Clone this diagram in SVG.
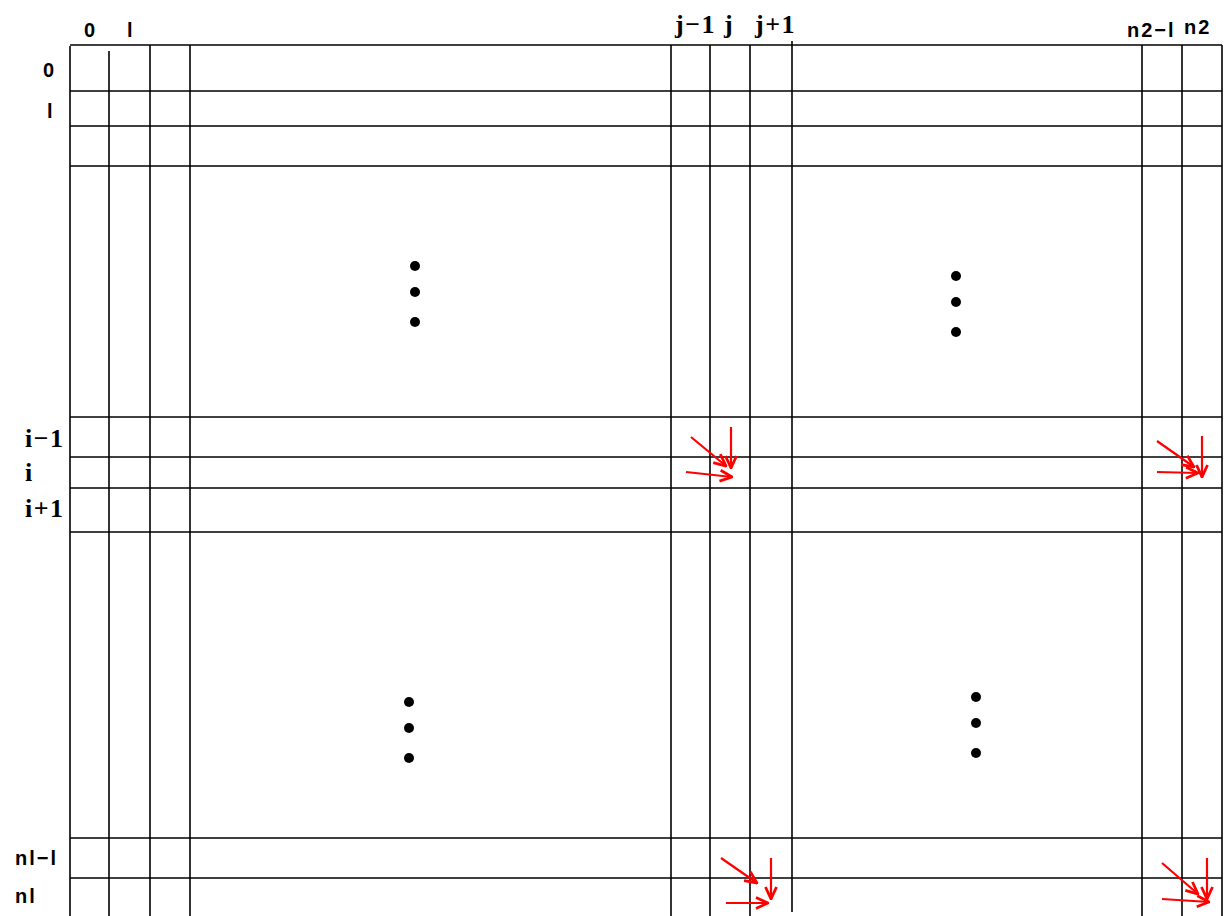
<svg xmlns="http://www.w3.org/2000/svg" width="1225" height="916" viewBox="0 0 1225 916">
<style>
.g{stroke:#000;stroke-width:1.6;fill:none}
.a{stroke:#f00;stroke-width:2.2;fill:none;marker-end:url(#ah)}
.serif{font-family:"Liberation Serif",serif;font-size:26px;font-weight:bold;letter-spacing:1.5px;fill:#000}
.sans{font-family:"Liberation Sans",sans-serif;font-size:20px;font-weight:bold;letter-spacing:2px;fill:#000}
.d{fill:#000}
</style>
<defs>
<marker id="ah" viewBox="0 0 14 14" refX="13" refY="7" markerWidth="14" markerHeight="14" markerUnits="userSpaceOnUse" orient="auto">
<path d="M1,1.5 L13,7 L1,12.5" fill="none" stroke="#f00" stroke-width="2.8"/>
</marker>
</defs>
<rect width="1225" height="916" fill="#fff"/>
<g id="grid">
<line class="g" x1="70" y1="45" x2="1222" y2="45"/>
<line class="g" x1="70" y1="91" x2="1222" y2="91"/>
<line class="g" x1="70" y1="126" x2="1222" y2="126"/>
<line class="g" x1="70" y1="166" x2="1222" y2="166"/>
<line class="g" x1="70" y1="417" x2="1222" y2="417"/>
<line class="g" x1="70" y1="457" x2="1222" y2="457"/>
<line class="g" x1="70" y1="488" x2="1222" y2="488"/>
<line class="g" x1="70" y1="532" x2="1222" y2="532"/>
<line class="g" x1="70" y1="838" x2="1222" y2="838"/>
<line class="g" x1="70" y1="878" x2="1222" y2="878"/>
<line class="g" x1="70" y1="46" x2="70" y2="916"/>
<line class="g" x1="109" y1="51" x2="109" y2="916"/>
<line class="g" x1="150" y1="45" x2="150" y2="916"/>
<line class="g" x1="190" y1="45" x2="190" y2="916"/>
<line class="g" x1="671" y1="45" x2="671" y2="916"/>
<line class="g" x1="710" y1="45" x2="710" y2="916"/>
<line class="g" x1="750" y1="45" x2="750" y2="916"/>
<line class="g" x1="792" y1="41" x2="792" y2="912"/>
<line class="g" x1="1142" y1="45" x2="1142" y2="916"/>
<line class="g" x1="1182" y1="45" x2="1182" y2="916"/>
<line class="g" x1="1222" y1="45" x2="1222" y2="916"/>
</g>
<g id="labels">
<text class="sans" x="84" y="37">0</text>
<text class="sans" x="127" y="37">l</text>
<text class="serif" x="675" y="33">j−1</text>
<text class="serif" x="724" y="33">j</text>
<text class="serif" x="755" y="33">j+1</text>
<text class="sans" x="1127" y="37">n2−l</text>
<text class="sans" x="1184" y="34">n2</text>
<text class="sans" x="43" y="77">0</text>
<text class="sans" x="47" y="118">l</text>
<text class="serif" x="25" y="447">i−1</text>
<text class="serif" x="25" y="481">i</text>
<text class="serif" x="25" y="517">i+1</text>
<text class="sans" x="15" y="865">nl−l</text>
<text class="sans" x="15" y="903">nl</text>
</g>
<g id="dots">
<circle class="d" cx="415" cy="266" r="5"/>
<circle class="d" cx="415" cy="292" r="5"/>
<circle class="d" cx="415" cy="322" r="5"/>
<circle class="d" cx="956" cy="276" r="5"/>
<circle class="d" cx="956" cy="302" r="5"/>
<circle class="d" cx="956" cy="332" r="5"/>
<circle class="d" cx="409" cy="702" r="5"/>
<circle class="d" cx="409" cy="728" r="5"/>
<circle class="d" cx="409" cy="758" r="5"/>
<circle class="d" cx="976" cy="697" r="5"/>
<circle class="d" cx="976" cy="723" r="5"/>
<circle class="d" cx="976" cy="753" r="5"/>
</g>
<g id="connectors">
<line class="a" x1="691" y1="437" x2="726" y2="466"/>
<line class="a" x1="731" y1="427" x2="731" y2="468"/>
<line class="a" x1="686" y1="472" x2="732" y2="477"/>
<line class="a" x1="1157" y1="441" x2="1194" y2="467"/>
<line class="a" x1="1202" y1="436" x2="1202" y2="477"/>
<line class="a" x1="1157" y1="472" x2="1198" y2="473"/>
<line class="a" x1="721" y1="858" x2="757" y2="883"/>
<line class="a" x1="771" y1="858" x2="771" y2="899"/>
<line class="a" x1="726" y1="903" x2="768" y2="903"/>
<line class="a" x1="1162" y1="863" x2="1198" y2="894"/>
<line class="a" x1="1207" y1="858" x2="1207" y2="899"/>
<line class="a" x1="1162" y1="899" x2="1209" y2="902"/>
</g>
</svg>
